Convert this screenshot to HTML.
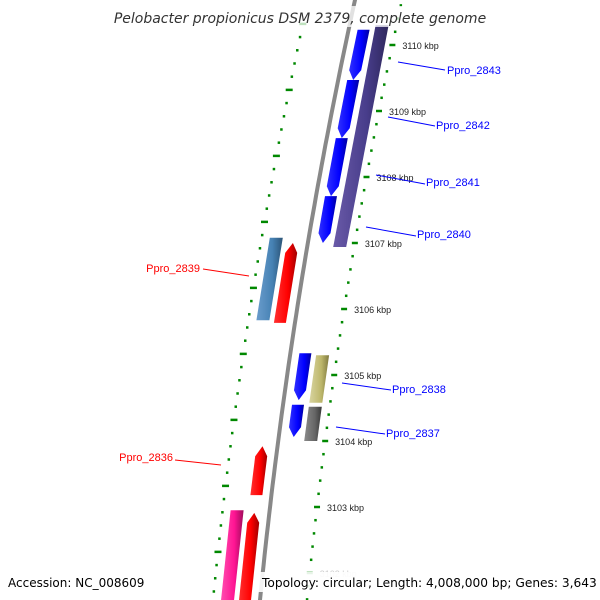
<!DOCTYPE html>
<html><head><meta charset="utf-8"><style>
html,body{margin:0;padding:0;background:#fff;overflow:hidden;width:600px;height:600px;}
svg{display:block;font-family:"Liberation Sans",sans-serif;overflow:hidden;}
</style></head><body>
<svg id="map" width="600" height="600" viewBox="0 0 600 600">
<defs>
<linearGradient id="g-blue" x1="0" x2="1"><stop offset="0" stop-color="#3030ff"/><stop offset="0.6" stop-color="#0000ff"/><stop offset="1" stop-color="#0000a0"/></linearGradient>
<linearGradient id="g-purple" x1="0" x2="1"><stop offset="0" stop-color="#6a5aa8"/><stop offset="0.6" stop-color="#483d8b"/><stop offset="1" stop-color="#2e275c"/></linearGradient>
<linearGradient id="g-red" x1="0" x2="1"><stop offset="0" stop-color="#ff3030"/><stop offset="0.6" stop-color="#ff0000"/><stop offset="1" stop-color="#a00000"/></linearGradient>
<linearGradient id="g-steel" x1="0" x2="1"><stop offset="0" stop-color="#6a9ccc"/><stop offset="0.6" stop-color="#4682b4"/><stop offset="1" stop-color="#2c5477"/></linearGradient>
<linearGradient id="g-khaki" x1="0" x2="1"><stop offset="0" stop-color="#d8d4a0"/><stop offset="0.6" stop-color="#bdb76b"/><stop offset="1" stop-color="#807a40"/></linearGradient>
<linearGradient id="g-grey" x1="0" x2="1"><stop offset="0" stop-color="#8a8a8a"/><stop offset="0.6" stop-color="#666"/><stop offset="1" stop-color="#3a3a3a"/></linearGradient>
<linearGradient id="g-pink" x1="0" x2="1"><stop offset="0" stop-color="#ff50b0"/><stop offset="0.6" stop-color="#ff1493"/><stop offset="1" stop-color="#a00c5c"/></linearGradient>
</defs>
<g id="layer"></g>
<g>
<line x1="398" y1="62" x2="445" y2="70" stroke="#00f"/>
<text x="447" y="74" font-size="11" fill="#00f">Ppro_2843</text>
<line x1="388" y1="117" x2="435" y2="126" stroke="#00f"/>
<text x="436" y="129" font-size="11" fill="#00f">Ppro_2842</text>
<line x1="376" y1="175" x2="425" y2="184" stroke="#00f"/>
<text x="426" y="186" font-size="11" fill="#00f">Ppro_2841</text>
<line x1="366" y1="227" x2="416" y2="236" stroke="#00f"/>
<text x="417" y="238" font-size="11" fill="#00f">Ppro_2840</text>
<line x1="342" y1="383" x2="391" y2="390" stroke="#00f"/>
<text x="392" y="393" font-size="11" fill="#00f">Ppro_2838</text>
<line x1="336" y1="427" x2="385" y2="434" stroke="#00f"/>
<text x="386" y="437" font-size="11" fill="#00f">Ppro_2837</text>
<line x1="203" y1="269" x2="249" y2="276" stroke="#f00"/>
<text x="200" y="272" font-size="11" fill="#f00" text-anchor="end">Ppro_2839</text>
<line x1="175" y1="460" x2="221" y2="465" stroke="#f00"/>
<text x="173" y="461" font-size="11" fill="#f00" text-anchor="end">Ppro_2836</text>
</g>
<rect x="114" y="6" width="372" height="21" fill="#fff" opacity="0.75"/>
<text x="300" y="23" font-size="14" font-style="italic" fill="#333" text-anchor="middle" style="font-family:'DejaVu Sans',sans-serif">Pelobacter propionicus DSM 2379, complete genome</text>
<rect x="4" y="572" width="144" height="20" fill="#fff"/>
<text x="8" y="587" font-size="12" fill="#000" style="font-family:'DejaVu Sans',sans-serif">Accession: NC_008609</text>
<rect x="258" y="572" width="338" height="20" fill="#fff" opacity="0.9"/>
<text x="262" y="587" font-size="12.2" fill="#000" style="font-family:'DejaVu Sans',sans-serif">Topology: circular; Length: 4,008,000 bp; Genes: 3,643</text>
</svg>
<script>
// data
const tickKbp = [3110,3109,3108,3107,3106,3105,3104,3103,3102];
const geneNames = ["Ppro_2843","Ppro_2842","Ppro_2841","Ppro_2840","purple-block","Ppro_2838","khaki-block","Ppro_2837","grey-block","Ppro_2839","steel-block","Ppro_2836","pink-block","red-block"];
const geneStart = [3110.23,3109.47,3108.59,3107.71,3110.3,3105.33,3105.30,3104.55,3104.52,3107.0,3107.08,3103.92,3102.95,3102.91];
const geneEnd   = [3109.47,3108.59,3107.71,3107.0,3106.94,3104.62,3104.58,3104.06,3104.0,3105.79,3105.83,3103.18,3101.5,3101.5];
const geneRing  = ["fi","fi","fi","fi","fo","fi","fo","fi","fo","ri","ro","ri","ro","ri"];
const geneArrow = [1,1,1,1,0,1,0,1,0,1,0,1,0,1];
const geneFill  = ["blue","blue","blue","blue","purple","blue","khaki","blue","grey","red","steel","red","pink","red"];

const ringOff = {fi:[9,21], fo:[26,39], ri:[-21,-9], ro:[-39,-26]};
const svg = document.getElementById('layer');
const NS = 'http://www.w3.org/2000/svg';
function yOf(k){ return 45 + (3110 - k) * 66; }
function bx(y){ return 355 - 0.2183*y + 0.0001*y*y; }
function pt(k, off){
  const y = yOf(k), x = bx(y);
  return [x + off, y];
}
function mk(tag, attrs){ const e = document.createElementNS(NS, tag); for (const a in attrs) e.setAttribute(a, attrs[a]); svg.appendChild(e); return e; }

// backbone
let d = '';
for (let y = -5; y <= 605; y += 10) d += (y === -5 ? 'M' : 'L') + bx(y).toFixed(1) + ' ' + y + ' ';
const bb = mk('path', {d: d, stroke: '#888', 'stroke-width': 4, fill: 'none'});



// tick rings
for (let k = 3111; k >= 3101; k = +(k - 0.2).toFixed(1)) {
  const major = Math.abs(k - Math.round(k)) < 0.01;
  const l = major ? 6 : 2.5;
  const a = pt(k, 47 - l/2), b = pt(k, 47 + l/2);
  const t = mk('line', {x1: a[0], y1: a[1], x2: b[0], y2: b[1], stroke: '#080', 'stroke-width': 2.5});
  
  
  const kl = k - 0.68;
  const l2 = major ? 7 : 2.5;
  const c = pt(kl, -47 - l2/2), e = pt(kl, -47 + l2/2);
  const t2 = mk('line', {x1: c[0], y1: c[1], x2: e[0], y2: e[1], stroke: '#080', 'stroke-width': 2.5});
  
  
}
tickKbp.forEach(k => {
  const p = pt(k, 57);
  const tx = mk('text', {x: p[0], y: p[1] + 4, 'font-size': 9, fill: k === 3102 ? '#ccc' : '#222'});
  tx.textContent = k + ' kbp';
  
  
});

// genes
geneNames.forEach((n, i) => {
  const [o1, o2] = ringOff[geneRing[i]];
  const om = (o1 + o2) / 2;
  const s = geneStart[i], e = geneEnd[i];
  const fwd = geneRing[i][0] === 'f';
  const h = 0.15;
  let pts;
  if (geneArrow[i]) {
    if (fwd) pts = [pt(s,o1), pt(e+h,o1), pt(e,om), pt(e+h,o2), pt(s,o2)];
    else pts = [pt(e,o1), pt(s-h,o1), pt(s,om), pt(s-h,o2), pt(e,o2)];
  } else pts = [pt(s,o1), pt(e,o1), pt(e,o2), pt(s,o2)];
  const g = mk('polygon', {points: pts.map(p => p[0].toFixed(1) + ',' + p[1].toFixed(1)).join(' '), fill: 'url(#g-' + geneFill[i] + ')'});
  
  
});
</script>
</body></html>
